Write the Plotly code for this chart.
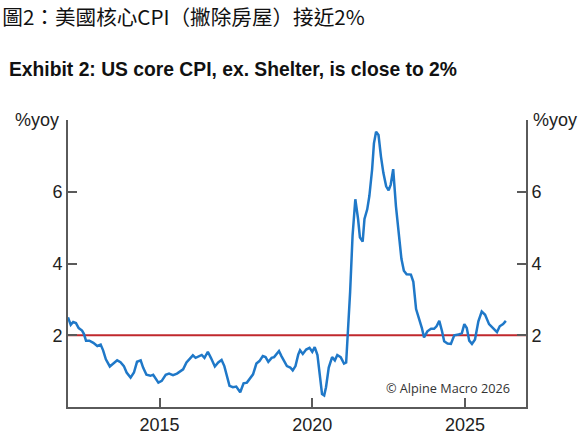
import plotly.graph_objects as go

# US core CPI ex. shelter, %yoy
years = [
    2012.00, 2012.09, 2012.17, 2012.26, 2012.35, 2012.46, 2012.52, 2012.59, 2012.70, 2012.83,
    2012.96, 2013.07, 2013.15, 2013.24, 2013.37, 2013.50, 2013.61, 2013.72, 2013.83, 2013.92,
    2014.05, 2014.16, 2014.26, 2014.38, 2014.46, 2014.57, 2014.70, 2014.79, 2014.88, 2014.96,
    2015.07, 2015.20, 2015.31, 2015.44, 2015.57, 2015.68, 2015.77, 2015.88, 2015.99, 2016.09,
    2016.18, 2016.29, 2016.38, 2016.47, 2016.58, 2016.68, 2016.81, 2016.92, 2017.03, 2017.12,
    2017.21, 2017.29, 2017.40, 2017.51, 2017.64, 2017.75, 2017.86, 2017.97, 2018.06, 2018.17,
    2018.27, 2018.38, 2018.47, 2018.56, 2018.67, 2018.75, 2018.91, 2018.99, 2019.08, 2019.17,
    2019.28, 2019.36, 2019.45, 2019.54, 2019.60, 2019.69, 2019.80, 2019.91, 2020.00, 2020.08,
    2020.17, 2020.24, 2020.32, 2020.39, 2020.45, 2020.54, 2020.65, 2020.74, 2020.82, 2020.93,
    2021.04, 2021.11, 2021.16, 2021.24, 2021.32, 2021.41, 2021.50, 2021.56, 2021.65, 2021.71,
    2021.80, 2021.87, 2021.96, 2022.02, 2022.09, 2022.17, 2022.25, 2022.33, 2022.42, 2022.50,
    2022.57, 2022.65, 2022.74, 2022.83, 2022.92, 2023.00, 2023.09, 2023.23, 2023.31, 2023.40,
    2023.50, 2023.59, 2023.66, 2023.77, 2023.89, 2023.99, 2024.07, 2024.16, 2024.25, 2024.32,
    2024.43, 2024.54, 2024.65, 2024.79, 2024.90, 2024.98, 2025.06, 2025.14, 2025.23, 2025.33,
    2025.44, 2025.55, 2025.66, 2025.79, 2025.92, 2026.05, 2026.14, 2026.25, 2026.34,
]
core_ex_shelter = [
    2.50, 2.29, 2.37, 2.34, 2.20, 2.13, 2.04, 1.85, 1.85, 1.79,
    1.70, 1.74, 1.58, 1.33, 1.13, 1.21, 1.30, 1.25, 1.14, 0.96,
    0.82, 0.96, 1.26, 1.30, 1.10, 0.90, 0.87, 0.90, 0.78, 0.68,
    0.73, 0.90, 0.93, 0.89, 0.93, 0.99, 1.05, 1.24, 1.35, 1.44,
    1.37, 1.42, 1.45, 1.37, 1.54, 1.37, 1.13, 1.24, 1.31, 1.14,
    0.82, 0.59, 0.55, 0.57, 0.41, 0.66, 0.68, 0.82, 0.91, 1.21,
    1.28, 1.42, 1.39, 1.26, 1.37, 1.39, 1.56, 1.42, 1.28, 1.14,
    1.10, 1.02, 1.14, 1.46, 1.58, 1.48, 1.60, 1.65, 1.54, 1.67,
    1.45, 0.91, 0.36, 0.32, 0.55, 1.10, 1.39, 1.30, 1.45, 1.39,
    1.21, 1.24, 1.93, 3.21, 4.78, 5.79, 5.24, 4.73, 4.61, 5.24,
    5.51, 5.88, 6.62, 7.35, 7.67, 7.58, 6.98, 6.52, 6.15, 6.04,
    6.20, 6.63, 5.60, 4.78, 4.13, 3.80, 3.70, 3.69, 3.49, 2.73,
    2.48, 2.20, 1.94, 2.11, 2.18, 2.18, 2.25, 2.40, 2.11, 1.83,
    1.77, 1.76, 2.00, 2.02, 2.06, 2.31, 2.20, 1.85, 1.76, 1.88,
    2.39, 2.66, 2.57, 2.31, 2.20, 2.09, 2.25, 2.31, 2.40,
]
target = 2.0
x_ticks = [2015, 2020, 2025]
y_ticks = [2, 4, 6]

axis_col = "#5a5a5a"
tick_font = dict(family="Liberation Sans, Arial", size=18, color="#222222")

fig = go.Figure()
fig.add_hline(y=target, line=dict(color="#c0282d", width=2), layer="below")
fig.add_trace(go.Scatter(
    x=years, y=core_ex_shelter, mode="lines",
    line=dict(color="#1f78c8", width=2.5), showlegend=False, hoverinfo="skip",
))
# invisible copy so the right-hand axis gets drawn
fig.add_trace(go.Scatter(
    x=years, y=core_ex_shelter, mode="lines", yaxis="y2",
    line=dict(color="rgba(0,0,0,0)", width=0), showlegend=False, hoverinfo="skip",
))

fig.update_layout(
    width=585, height=447,
    margin=dict(l=68, r=59, t=120, b=37),
    paper_bgcolor="white", plot_bgcolor="white",
    hovermode=False,
    title=dict(
        text="圖2：美國核心CPI（撇除房屋）接近2%",
        font=dict(family="Noto Sans CJK TC", size=20.6, color="#111111"),
        xref="container", x=0.004, xanchor="left",
        yref="container", y=1 - 18 / 447, yanchor="middle",
    ),
    xaxis=dict(
        range=[2012, 2027], tickvals=x_ticks, ticks="inside", ticklen=9,
        tickcolor=axis_col, tickwidth=1.5, showline=True, linecolor=axis_col, linewidth=2,
        showgrid=False, zeroline=False, tickfont=tick_font,
    ),
    yaxis=dict(
        range=[0, 8], tickvals=y_ticks, ticks="inside", ticklen=9,
        tickcolor=axis_col, tickwidth=1.5, showline=True, linecolor=axis_col, linewidth=2,
        showgrid=False, zeroline=False, tickfont=tick_font,
    ),
    yaxis2=dict(
        range=[0, 8], tickvals=y_ticks, ticks="inside", ticklen=9,
        tickcolor=axis_col, tickwidth=1.5, showline=True, linecolor=axis_col, linewidth=2,
        showgrid=False, zeroline=False, tickfont=tick_font,
        overlaying="y", side="right",
    ),
)

fig.add_annotation(
    text="<b>Exhibit 2: US core CPI, ex. Shelter, is close to 2%</b>",
    xref="paper", yref="paper", x=-61 / 458, y=1.175, xanchor="left", yanchor="middle",
    showarrow=False, font=dict(family="Liberation Sans, Arial", size=19.3, color="#111111"),
)
fig.add_annotation(
    text="%yoy", xref="paper", yref="paper", x=0, y=1, xanchor="right", yanchor="middle",
    xshift=-7, showarrow=False, font=tick_font,
)
fig.add_annotation(
    text="%yoy", xref="paper", yref="paper", x=1, y=1, xanchor="left", yanchor="middle",
    xshift=5, showarrow=False, font=tick_font,
)
fig.add_annotation(
    text="© Alpine Macro 2026", xref="paper", yref="paper", x=0.969, y=0.066,
    xanchor="right", yanchor="middle", showarrow=False,
    font=dict(family="Open Sans", size=12.7, color="#333333"),
)

# drop the page's default body margin so the figure sits at the window's corner
fig.write_html(
    "out.html",
    config={"displayModeBar": False},
    post_script="document.body.style.margin='0';",
)
